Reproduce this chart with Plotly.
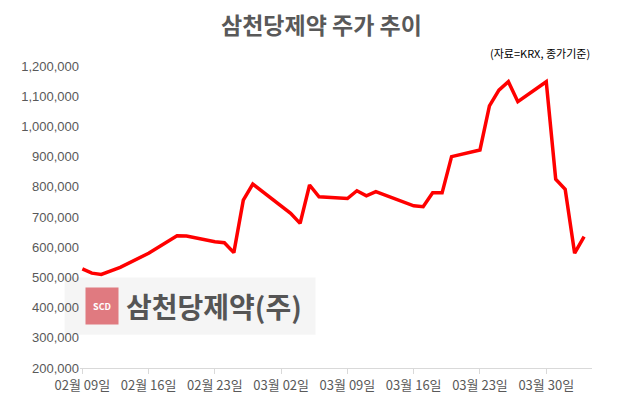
import pandas as pd
import plotly.graph_objects as go

# 거래일 (2026-02-09 기준 경과일)
day_offsets = [0, 1, 2, 4, 7, 10, 11, 14, 15, 16, 17, 18, 22, 23, 24, 25, 28, 29, 30, 31,
               35, 36, 37, 38, 39, 42, 43, 44, 45, 46, 49, 50, 51, 52, 53]
close_prices = [528000, 514000, 510000, 533000, 580000, 638000, 637000, 618000, 615000, 582000,
                756000, 809000, 712000, 679000, 806000, 767000, 761000, 787000, 770000, 784000,
                737000, 734000, 780000, 780000, 900000, 922000, 1068000, 1120000, 1148000, 1082000,
                1148000, 825000, 792000, 580000, 635000]
dates = pd.Timestamp("2026-02-09") + pd.to_timedelta(day_offsets, unit="D")

fig = go.Figure()
fig.add_trace(go.Scatter(x=dates, y=close_prices, mode="lines",
                         line=dict(color="#ff0000", width=3.5)))

gray = "#595959"
fig.update_layout(
    width=627, height=408,
    margin=dict(l=72, r=43, t=58, b=48),
    plot_bgcolor="white", paper_bgcolor="white",
    showlegend=False,
    font=dict(family="Noto Sans CJK KR", color=gray, size=12),
    title=dict(text="<b>삼천당제약 주가 추이</b>", x=0.5, y=0.975, xanchor="center",
               font=dict(size=23, color=gray)),
    xaxis=dict(
        type="date",
        range=["2026-02-08 18:00", "2026-04-03 20:00"],
        tick0="2026-02-09", dtick=7 * 86400000,
        tickformat="%m월 %d일",
        showgrid=False, showline=True, linecolor="#d9d9d9",
        ticks="outside", tickcolor="#d9d9d9", ticklen=5,
        tickfont=dict(size=13, color=gray, family="Liberation Sans Narrow, Noto Sans CJK KR"),
    ),
    yaxis=dict(
        range=[200000, 1200000], dtick=100000, tickformat=",",
        showgrid=False, showline=False, zeroline=False,
        tickfont=dict(size=13, color=gray, family="Liberation Sans Narrow, Liberation Sans"),
    ),
)

fig.add_annotation(xref="paper", yref="paper", x=1.0, y=1.01, xanchor="right", yanchor="bottom",
                   text="(자료=KRX, 종가기준)", showarrow=False,
                   font=dict(size=11, color="black"))

# 회사 로고 (워터마크)
fig.add_shape(type="rect", xref="paper", yref="paper", x0=-0.03, x1=0.46, y0=0.11, y1=0.30,
              fillcolor="rgba(238,238,238,0.6)", line=dict(width=0), layer="below")
fig.add_annotation(xref="paper", yref="paper", x=0.01, y=0.205, xanchor="left", yanchor="middle",
                   text="<b>SCD</b>", showarrow=False, bgcolor="#e07a80",
                   font=dict(size=9, color="white"), width=30, height=34)
fig.add_annotation(xref="paper", yref="paper", x=0.085, y=0.205, xanchor="left", yanchor="middle",
                   text="<b>삼천당제약(주)</b>", showarrow=False,
                   font=dict(size=28, color="#555555"))

fig.write_html("out.html")
